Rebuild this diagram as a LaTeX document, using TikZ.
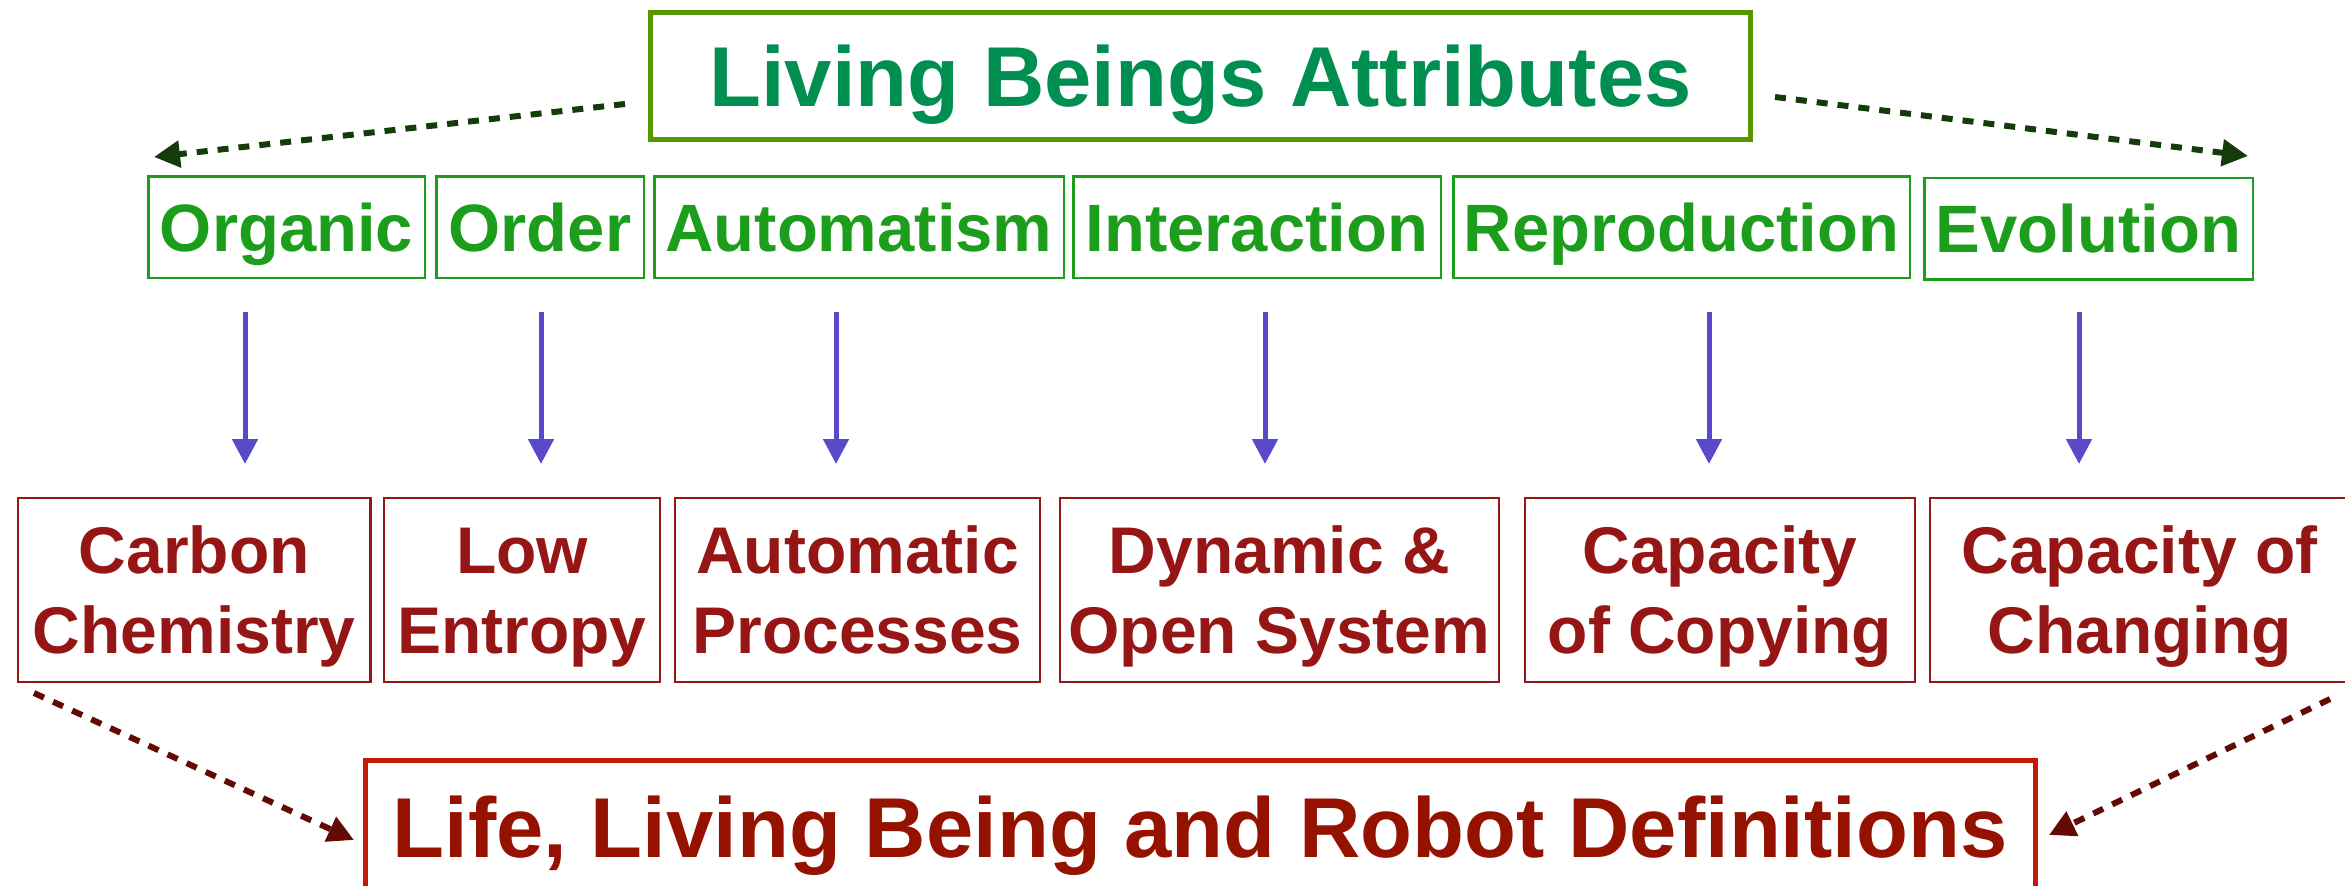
\documentclass[tikz,border=0pt]{standalone}
\usepackage{fontspec}
\setmainfont{Liberation Sans}
\usetikzlibrary{arrows.meta}

\definecolor{headgreen}{RGB}{0,143,80}
\definecolor{headframe}{RGB}{88,150,0}
\definecolor{attrgreen}{RGB}{28,158,28}
\definecolor{defred}{RGB}{150,22,22}
\definecolor{footred}{RGB}{150,18,0}
\definecolor{footframe}{RGB}{195,25,5}
\definecolor{flowblue}{RGB}{88,74,200}
\definecolor{dkgreen}{RGB}{20,60,10}
\definecolor{dkred}{RGB}{100,10,5}

\begin{document}
\begin{tikzpicture}[x=1pt,y=-1pt,
  head/.style={draw=headframe,line width=5pt,text=headgreen,inner sep=0pt,
    font=\bfseries\fontsize{85}{102}\selectfont,text height=62pt,text depth=0pt},
  foot/.style={draw=footframe,line width=5pt,text=footred,inner sep=0pt,
    font=\bfseries\fontsize{85}{102}\selectfont,text height=62pt,text depth=0pt},
  attr/.style={draw=attrgreen,line width=2.5pt,text=attrgreen,inner sep=0pt,
    minimum height=101.5pt,font=\bfseries\fontsize{67}{80}\selectfont,
    text height=48pt,text depth=0pt},
  defn/.style={draw=defred,line width=2.3pt,text=defred,inner sep=0pt,align=center,
    minimum height=184pt,font=\bfseries\fontsize{66}{80}\selectfont,
    text height=127pt,text depth=0pt},
  flow/.style={flowblue,line width=5pt,-{Triangle[length=25pt,width=25pt]}},
  fan/.style={dash pattern=on 11pt off 10pt,line width=6pt,-{Triangle[length=26pt,width=26pt]}}]
\useasboundingbox (0,0) rectangle (2345,886);

\node[head,minimum width=1100pt,minimum height=127pt] (attrs) at (1200.5,75.5) {Living Beings Attributes};

% attributes
\node[attr,minimum width=276.5pt] (org) at (286.5,227) {Organic};
\node[attr,minimum width=207.5pt] (ord) at (540,227) {Order};
\node[attr,minimum width=409.5pt] (aut) at (859,227) {Automatism};
\node[attr,minimum width=367.5pt] (int) at (1257,227) {Interaction};
\node[attr,minimum width=456.5pt] (rep) at (1681.5,227) {Reproduction};
\node[attr,minimum width=328.5pt] (evo) at (2088.5,228.5) {Evolution};

% what each attribute means
\node[defn,minimum width=352.5pt] (carb) at (194.2,590) {Carbon\\Chemistry};
\node[defn,minimum width=275.5pt] (entr) at (522,590) {Low\\Entropy};
\node[defn,minimum width=364.5pt] (proc) at (857.5,590) {Automatic\\Processes};
\node[defn,minimum width=438.5pt] (open) at (1279.5,590) {Dynamic \&\\Open System};
\node[defn,minimum width=389.5pt] (copy) at (1720,590) {Capacity\\of Copying};
\node[defn,minimum width=418.5pt] (chng) at (2139.5,590) {Capacity of\\Changing};

\node[foot,minimum width=1670pt,minimum height=132pt] (defs) at (1200,826.5) {Life, Living Being and Robot Definitions};

\foreach \x [count=\i] in {245,541,836,1265,1709,2079} {
  \coordinate (up\i) at (\x,312);
  \coordinate (dn\i) at (\x,464);
  \draw[flow] (up\i) -- (dn\i);
}

\coordinate (tl) at (625,104);
\coordinate (tr) at (1775,97);
\coordinate (ol) at (154,157);
\coordinate (or) at (2248,156);
\draw[fan,dkgreen] (tl) -- (ol);
\draw[fan,dkgreen] (tr) -- (or);

\coordinate (bl) at (34,693);
\coordinate (br) at (2330,699);
\coordinate (il) at (354,840);
\coordinate (ir) at (2049,835);
\draw[fan,dkred] (bl) -- (il);
\draw[fan,dkred] (br) -- (ir);
\end{tikzpicture}
\end{document}
